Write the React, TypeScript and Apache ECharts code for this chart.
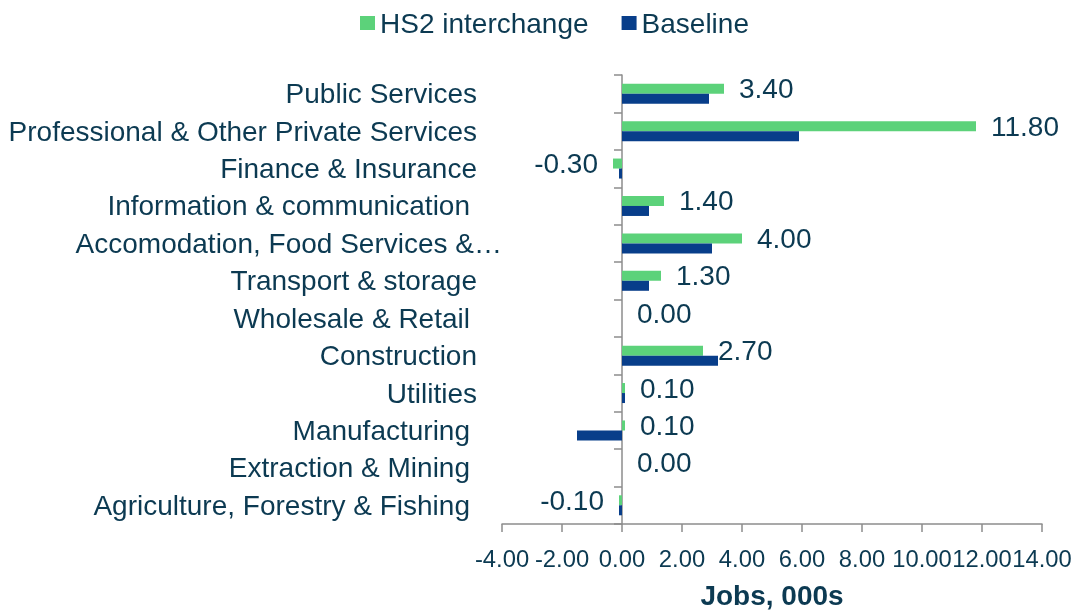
import React, { useEffect, useRef } from "react";
import * as echarts from "echarts";

const categories = [
  "Public Services",
  "Professional & Other Private Services",
  "Finance & Insurance",
  "Information & communication",
  "Accomodation, Food Services &…",
  "Transport & storage",
  "Wholesale & Retail",
  "Construction",
  "Utilities",
  "Manufacturing",
  "Extraction & Mining",
  "Agriculture, Forestry & Fishing",
];
// labels that had a trailing space in the source (rendered slightly further left)
const spacedLabels = [
  "Information & communication",
  "Wholesale & Retail",
  "Manufacturing",
  "Extraction & Mining",
  "Agriculture, Forestry & Fishing",
];
const truncatedLabels = ["Accomodation, Food Services &…"];

const hs2Values = [3.4, 11.8, -0.3, 1.4, 4.0, 1.3, 0.0, 2.7, 0.1, 0.1, 0.0, -0.1];
const baselineValues = [2.9, 5.9, -0.1, 0.9, 3.0, 0.9, 0.0, 3.2, 0.1, -1.5, 0.0, -0.1];

const xMin = -4;
const xMax = 14;
const xStep = 2;

const TEXT = "#0c3a52";
const GREEN = "#5cd27a";
const BLUE = "#083e8a";
const AXIS = "#8c8c8c";
const FONT = "'Liberation Sans', Arial, sans-serif";

export default function App() {
  const ref = useRef<HTMLDivElement>(null);
  useEffect(() => {
    if (!ref.current) return;
    const chart = echarts.init(ref.current, null, { renderer: "svg" });
    chart.setOption({
      animation: false,
      textStyle: { fontFamily: FONT, color: TEXT },
      legend: {
        data: ["HS2 interchange", "Baseline"],
        left: 355,
        top: 4,
        icon: "rect",
        itemWidth: 15,
        itemHeight: 14,
        itemGap: 33,
        textStyle: { fontSize: 28, color: TEXT, fontFamily: FONT },
      },
      grid: {
        left: 502,
        top: 75,
        width: 540,
        height: 449,
        containLabel: false,
        outerBoundsMode: "none",
      },
      xAxis: {
        type: "value",
        min: xMin,
        max: xMax,
        interval: xStep,
        name: "Jobs, 000s",
        nameLocation: "middle",
        nameGap: 57,
        nameTextStyle: { fontSize: 28, fontWeight: "bold", color: TEXT, fontFamily: FONT },
        axisLine: { show: true, onZero: false, lineStyle: { color: AXIS, width: 1.5 } },
        axisTick: { show: true, length: 8, lineStyle: { color: AXIS, width: 1.5 } },
        splitLine: { show: false },
        axisLabel: {
          fontSize: 23.8,
          color: TEXT,
          fontFamily: FONT,
          margin: 22,
          showMinLabel: true,
          showMaxLabel: true,
          hideOverlap: false,
          formatter: (v: number) => v.toFixed(2),
        },
      },
      yAxis: [
        {
          type: "category",
          data: categories,
          inverse: true,
          position: "left",
          axisLine: { show: false, onZero: false },
          axisTick: { show: false },
          axisLabel: {
            margin: 0,
            interval: 0,
            formatter: (v: string) => {
              if (truncatedLabels.includes(v)) return "{t|" + v + "}";
              if (spacedLabels.includes(v)) return "{s|" + v + "}";
              return "{n|" + v + "}";
            },
            rich: {
              n: { fontSize: 28, color: TEXT, fontFamily: FONT, padding: [0, 25, 0, 0] },
              s: { fontSize: 28, color: TEXT, fontFamily: FONT, padding: [0, 32, 0, 0] },
              t: { fontSize: 28, color: TEXT, fontFamily: FONT, padding: [0, 0, 0, 0] },
            },
          },
        },
        {
          type: "category",
          data: categories,
          inverse: true,
          position: "left",
          axisLine: { show: true, onZero: true, lineStyle: { color: AXIS, width: 1.5 } },
          axisTick: { show: true, length: 8, lineStyle: { color: AXIS, width: 1.5 } },
          axisLabel: { show: false },
          splitLine: { show: false },
        },
      ],
      series: [
        {
          name: "HS2 interchange",
          type: "bar",
          yAxisIndex: 0,
          barWidth: 10,
          barGap: "0%",
          itemStyle: { color: GREEN },
          data: hs2Values.map((v) => ({
            value: v,
            label: { position: v < 0 ? "left" : "right" },
          })),
          label: {
            show: true,
            distance: 15,
            fontSize: 28,
            color: TEXT,
            fontFamily: FONT,
            formatter: (p: any) => Number(p.value).toFixed(2),
          },
        },
        {
          name: "Baseline",
          type: "bar",
          yAxisIndex: 0,
          barWidth: 10,
          barGap: "0%",
          itemStyle: { color: BLUE },
          data: baselineValues,
        },
      ],
    });
    return () => chart.dispose();
  }, []);
  return (
    <div
      ref={ref}
      style={{ position: "fixed", left: 0, top: 0, width: 1084, height: 612 }}
    />
  );
}
